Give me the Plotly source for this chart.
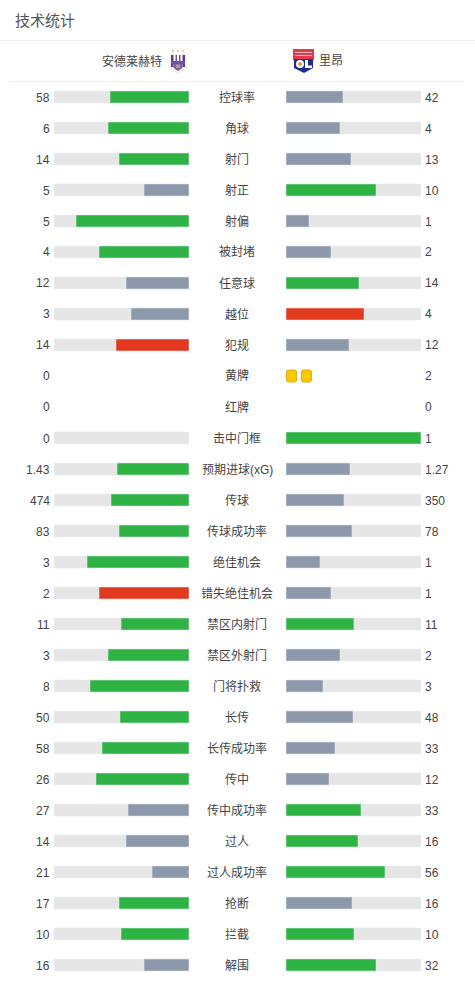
import math
import plotly.graph_objects as go

stats = ["控球率","角球","射门","射正","射偏","被封堵","任意球","越位","犯规","黄牌","红牌","击中门框",
         "预期进球(xG)","传球","传球成功率","绝佳机会","错失绝佳机会","禁区内射门","禁区外射门","门将扑救",
         "长传","长传成功率","传中","传中成功率","过人","过人成功率","抢断","拦截","解围"]
home = [58,6,14,5,5,4,12,3,14,0,0,0,1.43,474,83,3,2,11,3,8,50,58,26,27,14,21,17,10,16]
away = [42,4,13,10,1,2,14,4,12,2,0,1,1.27,350,78,1,1,11,2,3,48,33,12,33,16,56,16,10,32]
G, S, R = "#2fb344", "#8e98ab", "#e2391f"
home_colors = [G,G,G,S,G,G,S,S,R,S,S,S,G,G,G,G,R,G,G,G,G,G,G,S,S,S,G,G,S]
away_colors = [S,S,S,G,S,S,G,R,S,S,S,G,S,S,S,S,S,G,S,S,S,S,S,G,G,G,S,G,G]
card_rows = ["黄牌"]
title = "技术统计"
home_team, away_team = "安德莱赫特", "里昂"
TRACK = "#e6e6e6"; TEXT = "#444444"
FONT = "Liberation Sans, Noto Sans CJK SC, sans-serif"
W, H = 475, 981
BAR_PX = 135

rows = list(range(len(stats)))
bar_rows = [i for i in rows if stats[i] not in ("黄牌", "红牌")]
def share(a, b):
    return math.ceil(a / (a + b) * BAR_PX - 1e-9) / BAR_PX if a + b else 0
hs = [share(home[i], away[i]) for i in bar_rows]
as_ = [share(away[i], home[i]) for i in bar_rows]

fig = go.Figure()
bw = 12 / 31
fig.add_bar(x=[1]*len(bar_rows), y=bar_rows, orientation="h", marker_color=TRACK, width=bw, xaxis="x", yaxis="y", hoverinfo="skip")
fig.add_bar(x=hs, y=bar_rows, orientation="h", marker_color=[home_colors[i] for i in bar_rows], width=bw, xaxis="x", yaxis="y")
fig.add_bar(x=[1]*len(bar_rows), y=bar_rows, orientation="h", marker_color=TRACK, width=bw, xaxis="x2", yaxis="y", hoverinfo="skip")
fig.add_bar(x=as_, y=bar_rows, orientation="h", marker_color=[away_colors[i] for i in bar_rows], width=bw, xaxis="x2", yaxis="y")

# yellow cards
cb, cy = [], []
for i in rows:
    if stats[i] in card_rows:
        for k in range(int(away[i])):
            cb.append(15*k/BAR_PX); cy.append(i)
fig.add_bar(x=[10/BAR_PX]*len(cb), base=[b + 0.5/BAR_PX for b in cb], y=cy, orientation="h", width=12/31, xaxis="x2", yaxis="y",
            marker=dict(color="#fdc800", cornerradius=2, line=dict(color="#e8a90c", width=1)))

def px(x): return x / W
def py(y): return 1 - y / H
ann = []
def text(x, y, s, size=12, anchor="center", color=TEXT):
    ann.append(dict(x=px(x), y=py(y), xref="paper", yref="paper", text=s, showarrow=False, borderpad=0, borderwidth=0,
                    xanchor=anchor, yanchor="middle", font=dict(size=size, color=color, family=FONT)))
for i in rows:
    y = 97.5 + 31*i
    text(49.5, y, str(home[i]), anchor="right")
    text(424.5, y, str(away[i]), anchor="left")
    text(237, y, stats[i])
text(15, 20.5, title, size=15, anchor="left", color="#555555")
text(162, 61.5, home_team, anchor="right")
text(319, 61.5, away_team, anchor="left")

shapes = []
def line(x0, x1, y, c):
    shapes.append(dict(type="line", xref="paper", yref="paper", x0=px(x0), x1=px(x1), y0=py(y), y1=py(y), line=dict(color=c, width=1)))
def rect(x0, y0, x1, y1, c):
    shapes.append(dict(type="rect", xref="paper", yref="paper", x0=px(x0), x1=px(x1), y0=py(y0), y1=py(y1), fillcolor=c, line_width=0))
def circ(x0, y0, x1, y1, c):
    shapes.append(dict(type="circle", xref="paper", yref="paper", x0=px(x0), x1=px(x1), y0=py(y0), y1=py(y1), fillcolor=c, line_width=0))
def poly(pts, c):
    d = "M" + "L".join(f"{px(a):.5f},{py(b):.5f}" for a, b in pts) + "Z"
    shapes.append(dict(type="path", xref="paper", yref="paper", path=d, fillcolor=c, line_width=0))
line(0, 475, 40.5, "#f0f0f0")
line(9, 465, 81.5, "#f0f0f0")
# Anderlecht crest
poly([(169,54),(187,54),(187,69),(178,74),(169,69)], "#f6efe4")
poly([(171,55),(185,55),(185,67),(178,71),(171,67)], "#ffffff")
rect(171,55,173.5,67,"#5b3f8f"); rect(182.5,55,185,67,"#5b3f8f")
rect(175.5,55,177,61,"#6f55a0"); rect(179,55,180.5,61,"#6f55a0")
rect(171,61,185,64,"#6f55a0")
poly([(173.5,64),(182.5,64),(182.5,68),(178,71),(173.5,68)], "#7a5fa8")
rect(176,64.5,180,68,"#b69f83")
for a in (172,177,182):
    rect(a,50,a+2,52,"#eec9a0")
# Lyon crest
rect(293,49,314,60,"#e23a4e")
rect(295,52,312,53,"#f4b9bf"); rect(295,55,312,56,"#f4b9bf")
poly([(294,59),(313,59),(313,68),(304,73),(294,68)], "#1c2f8f")
circ(296,60,304,68,"#ffffff")
circ(298,62,302,66,"#d9a43a")
poly([(305,60),(308,60),(308,65.5),(312,65.5),(312,68),(305,68)], "#ffffff")

ymin = -97/31; ymax = (981-97)/31
fig.update_layout(
    width=W, height=H, autosize=False, margin=dict(l=0, r=0, t=0, b=0),
    paper_bgcolor="#ffffff", plot_bgcolor="#ffffff", showlegend=False, barmode="overlay",
    xaxis=dict(domain=[54/W, 189/W], range=[1, 0], visible=False, fixedrange=True),
    xaxis2=dict(domain=[286/W, 421/W], range=[0, 1], visible=False, fixedrange=True),
    yaxis=dict(range=[ymax, ymin], domain=[0, 1], visible=False, fixedrange=True),
    annotations=ann, shapes=shapes,
)
fig.write_html("out.html", config=dict(displayModeBar=False),
               post_script="document.body.style.margin='0';document.documentElement.style.overflow='hidden';")
